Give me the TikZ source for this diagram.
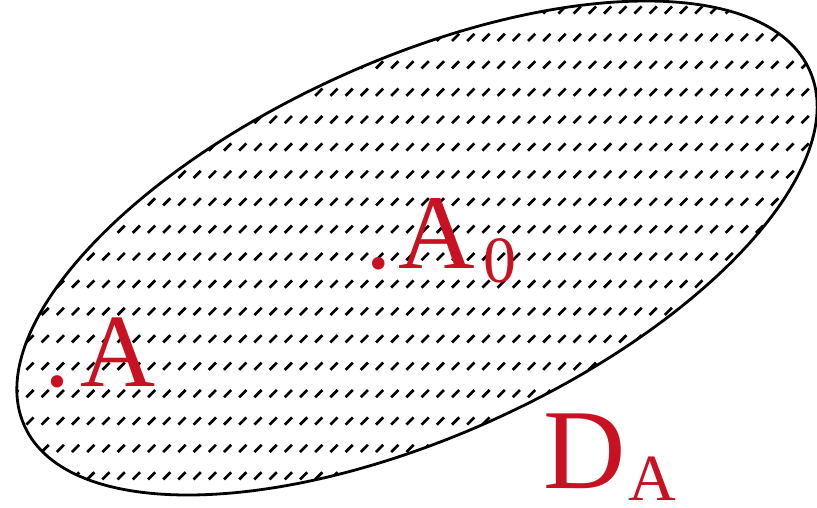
\documentclass[tikz,border=0pt]{standalone}
\usepackage{fontspec}
\setmainfont{Liberation Serif}
\definecolor{labred}{RGB}{200,18,34}
\tikzset{
  hatchdash/.style={line width=2.7pt, black, line cap=butt},
  rim/.style={line width=2.8pt, black},
  lab/.style={anchor=base west, inner sep=0pt, outer sep=0pt, text=labred, text depth=0pt}
}
\begin{document}
\begin{tikzpicture}[x=1pt,y=-1pt]
\useasboundingbox (0,0) rectangle (817,507);
\fill[white] (0,0) rectangle (817,507);
% hatching inside the ellipse
\begin{scope}
  \clip[shift={(417,248)},rotate=24.4] (0,0) ellipse [x radius=431pt, y radius=188pt];
  \foreach \k in {-1,...,17}{
    \foreach \m in {-8,...,48}{
      \draw[hatchdash] ({106+15.2*\m-3.6},{37.4+27.4*\k+3.6}) -- ++(7.2,-7.2);
    }
  }
\end{scope}
\draw[rim,shift={(417,248)},rotate=24.4] (0,0) ellipse [x radius=431pt, y radius=188pt];
% labels
\node[lab] (a0) at (365,268) {\fontsize{106}{106}\selectfont .\kern7pt A\kern8pt\raisebox{-14pt}{\fontsize{66}{66}\selectfont 0}};
\node[lab] (a) at (45,386) {\fontsize{104}{104}\selectfont .\kern10pt A};
\node[lab] (da) at (543,488) {\fontsize{114}{114}\selectfont D\kern3pt\raisebox{-12pt}{\fontsize{66}{66}\selectfont A}};
\end{tikzpicture}
\end{document}
